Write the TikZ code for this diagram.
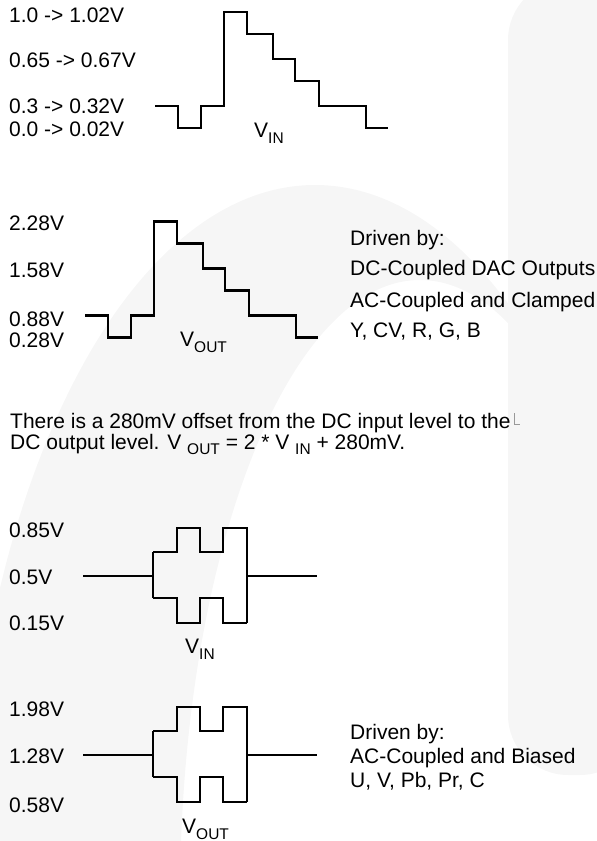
\documentclass[tikz,border=0pt]{standalone}
\usepackage{fontspec}
\setmainfont{Liberation Sans}
\newcommand{\lbsub}[1]{\raisebox{-6pt}{\fontsize{15.5}{15.5}\selectfont #1}}
\newcommand{\txsub}[1]{\raisebox{-5pt}{\fontsize{15.5}{15.5}\selectfont #1}}
\tikzset{
  lbl/.style={anchor=base west, inner sep=0pt, font=\fontsize{21}{24}\selectfont},
  wave/.style={line width=2.3pt, line join=miter},
  wm/.style={fill=black!3.5}
}
\begin{document}
\begin{tikzpicture}[x=1pt,y=-1pt]
\useasboundingbox (0,0) rectangle (597,841);
% faint watermark
\begin{scope}
  \clip (0,0) rectangle (597,841);
  \fill[wm, even odd rule] (315,900) ellipse [x radius=350pt, y radius=715pt]
                            (420,900) ellipse [x radius=240pt, y radius=620pt];
  \fill[wm, rounded corners=60pt] (508,-20) -- (508,775) -- (640,775) -- (640,-20) -- cycle;
\end{scope}

% ---- top: staircase V_IN
\node[lbl] (a1) at (9,22) {1.0 -> 1.02V};
\node[lbl] (a2) at (9,67) {0.65 -> 0.67V};
\node[lbl] (a3) at (9,113) {0.3 -> 0.32V};
\node[lbl] (a4) at (9,136) {0.0 -> 0.02V};
\node[lbl] (a5) at (254,137) {V\lbsub{IN}};
\draw[wave] (155,106) -- (178,106) -- (178,128) -- (201,128) -- (201,106) -- (224,106)
  -- (224,12) -- (247,12) -- (247,34) -- (273,34) -- (273,59) -- (295,59) -- (295,81)
  -- (319,81) -- (319,106) -- (366,106) -- (366,128) -- (388,128);

% ---- staircase V_OUT
\node[lbl] (b1) at (9,230) {2.28V};
\node[lbl] (b2) at (9,277) {1.58V};
\node[lbl] (b3) at (9,326) {0.88V};
\node[lbl] (b4) at (9,347) {0.28V};
\node[lbl] (b5) at (180,346) {V\lbsub{OUT}};
\begin{scope}[shift={(-70,209.5)}]
\draw[wave] (155,106) -- (178,106) -- (178,128) -- (201,128) -- (201,106) -- (224,106)
  -- (224,12) -- (247,12) -- (247,34) -- (273,34) -- (273,59) -- (295,59) -- (295,81)
  -- (319,81) -- (319,106) -- (366,106) -- (366,128) -- (388,128);
\end{scope}
\node[lbl] (c1) at (350,245) {Driven by:};
\node[lbl] (c2) at (350,275) {DC-Coupled DAC Outputs};
\node[lbl] (c3) at (350,307) {AC-Coupled and Clamped};
\node[lbl] (c4) at (350,337) {Y, CV, R, G, B};

% ---- paragraph
\node[lbl] (p1) at (10,428) {There is a 280mV offset from the DC input level to the};
\node[lbl] (p2) at (10,449) {DC output level. V \txsub{OUT} = 2 * V \txsub{IN} + 280mV.};
\draw[black!40, line width=0.6pt] (514,413) -- (514,424) -- (520,424);

% ---- square wave V_IN
\node[lbl] (d1) at (9,537) {0.85V};
\node[lbl] (d2) at (9,584) {0.5V};
\node[lbl] (d3) at (9,630) {0.15V};
\node[lbl] (d4) at (185,653) {V\lbsub{IN}};
\draw[wave] (83,576) -- (153,576);
\draw[wave] (153,552) -- (153,598);
\draw[wave] (153,552) -- (177,552) -- (177,528) -- (200,528) -- (200,552) -- (223,552)
  -- (223,528) -- (247,528) -- (247,623);
\draw[wave] (153,598) -- (177,598) -- (177,623) -- (200,623) -- (200,598) -- (223,598)
  -- (223,623) -- (247,623);
\draw[wave] (247,576) -- (317,576);

% ---- square wave V_OUT
\node[lbl] (e1) at (9,716) {1.98V};
\node[lbl] (e2) at (9,763) {1.28V};
\node[lbl] (e3) at (9,812) {0.58V};
\node[lbl] (e4) at (182,833) {V\lbsub{OUT}};
\begin{scope}[shift={(0,179)}]
\draw[wave] (83,576) -- (153,576);
\draw[wave] (153,552) -- (153,598);
\draw[wave] (153,552) -- (177,552) -- (177,528) -- (200,528) -- (200,552) -- (223,552)
  -- (223,528) -- (247,528) -- (247,623);
\draw[wave] (153,598) -- (177,598) -- (177,623) -- (200,623) -- (200,598) -- (223,598)
  -- (223,623) -- (247,623);
\draw[wave] (247,576) -- (317,576);
\end{scope}
\node[lbl] (f1) at (350,739) {Driven by:};
\node[lbl] (f2) at (350,763) {AC-Coupled and Biased};
\node[lbl] (f3) at (350,787) {U, V, Pb, Pr, C};
\end{tikzpicture}
\end{document}
